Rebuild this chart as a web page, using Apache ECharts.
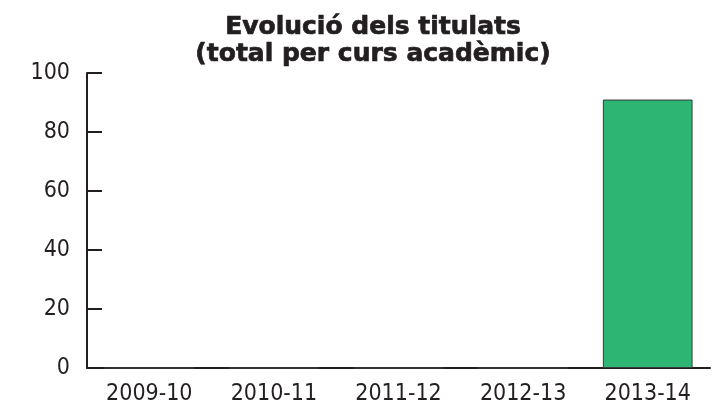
<!DOCTYPE html>
<html>
<head>
<meta charset="utf-8">
<script src="https://cdn.jsdelivr.net/npm/echarts@6/dist/echarts.min.js"></script>
<style>
  html, body { margin: 0; padding: 0; background: #fff; }
  #chart { width: 717px; height: 409px; }
</style>
</head>
<body>
<div id="chart"></div>
<script>
// dades
const courses = ['2009-10', '2010-11', '2011-12', '2012-13', '2013-14']
const graduates = [0, 0, 0, 0, 91]
const titleLines = ['Evolució dels titulats', '(total per curs acadèmic)']

const axisColor = '#231f20'
const labelFont = '"DejaVu Sans Condensed", sans-serif'

const chart = echarts.init(document.getElementById('chart'))

chart.setOption({
  animation: false,
  title: {
    text: titleLines.join('\n'),
    left: 368,
    textAlign: 'center',
    top: 9,
    textStyle: {
      fontFamily: '"DejaVu Sans", sans-serif',
      fontWeight: 'bold',
      fontSize: 25,
      lineHeight: 27,
      color: '#231f20',
      textBorderColor: '#231f20',
      textBorderWidth: 0.7,
    },
  },
  grid: {
    left: 87,
    right: 7,
    top: 73,
    bottom: 41,
  },
  xAxis: {
    type: 'category',
    data: courses,
    axisLine: { lineStyle: { color: axisColor, width: 2 } },
    axisTick: { inside: true, length: 8, lineStyle: { color: axisColor, width: 2 } },
    axisLabel: {
      color: '#231f20',
      fontFamily: labelFont,
      fontSize: 23,
      margin: 15,
    },
  },
  yAxis: {
    type: 'value',
    min: 0,
    max: 100,
    interval: 20,
    splitLine: { show: false },
    axisLine: { show: true, lineStyle: { color: axisColor, width: 2 } },
    axisTick: { show: true, inside: true, length: 15, lineStyle: { color: axisColor, width: 2 } },
    axisLabel: {
      color: '#231f20',
      fontFamily: labelFont,
      fontSize: 23,
      margin: 17,
    },
  },
  series: [
    {
      type: 'bar',
      data: graduates,
      barCategoryGap: '28%',
      itemStyle: {
        color: '#2db673',
        borderColor: '#3a3a3a',
        borderWidth: 1,
      },
    },
  ],
})
</script>
</body>
</html>
